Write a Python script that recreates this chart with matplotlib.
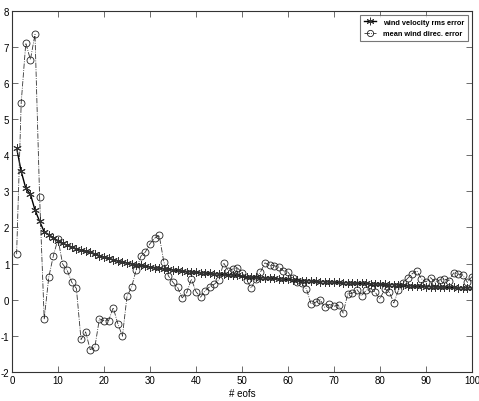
import matplotlib
matplotlib.use("Agg")
import matplotlib.pyplot as plt
import numpy as np

n_eofs = list(range(1, 101))

rms_error = [4.20, 3.55, 3.08, 2.92, 2.48, 2.17, 1.88, 1.80, 1.72, 1.62,
             1.56, 1.50, 1.46, 1.41, 1.37, 1.34, 1.31, 1.27, 1.22, 1.17,
             1.14, 1.11, 1.08, 1.05, 1.02, 1.00, 0.97, 0.95, 0.93, 0.91,
             0.89, 0.87, 0.86, 0.84, 0.83, 0.81, 0.80, 0.78, 0.77, 0.76,
             0.75, 0.74, 0.73, 0.72, 0.71, 0.70, 0.69, 0.68, 0.67, 0.65,
             0.64, 0.63, 0.62, 0.61, 0.60, 0.60, 0.59, 0.58, 0.57, 0.56,
             0.55, 0.54, 0.53, 0.53, 0.52, 0.51, 0.50, 0.50, 0.49, 0.49,
             0.48, 0.47, 0.47, 0.46, 0.46, 0.45, 0.45, 0.44, 0.44, 0.43,
             0.43, 0.42, 0.42, 0.41, 0.40, 0.39, 0.38, 0.37, 0.37, 0.36,
             0.36, 0.35, 0.35, 0.35, 0.34, 0.34, 0.33, 0.33, 0.33, 0.33]

dir_error = [1.26, 5.45, 7.10, 6.64, 7.34, 2.85, -0.53, 0.63, 1.22, 1.68,
             0.99, 0.81, 0.48, 0.31, -1.10, -0.89, -1.38, -1.32, -0.53, -0.58,
             -0.58, -0.22, -0.66, -1.01, 0.09, 0.35, 0.83, 1.20, 1.32, 1.55,
             1.70, 1.78, 1.05, 0.66, 0.48, 0.34, 0.05, 0.20, 0.57, 0.22,
             0.07, 0.25, 0.36, 0.43, 0.55, 1.02, 0.80, 0.85, 0.88, 0.75,
             0.55, 0.32, 0.57, 0.76, 1.02, 0.95, 0.94, 0.90, 0.80, 0.76,
             0.60, 0.50, 0.45, 0.30, -0.12, -0.07, 0.00, -0.21, -0.13, -0.18,
             -0.15, -0.37, 0.17, 0.18, 0.28, 0.11, 0.26, 0.31, 0.20, 0.02,
             0.30, 0.22, -0.09, 0.26, 0.45, 0.59, 0.72, 0.80, 0.58, 0.49,
             0.61, 0.48, 0.55, 0.57, 0.53, 0.74, 0.71, 0.68, 0.48, 0.64]

x_ticks = list(range(0, 101, 10))
y_ticks = list(range(-2, 9))

plt.rcParams['font.family'] = ['Liberation Sans', 'DejaVu Sans']
plt.rcParams['axes.unicode_minus'] = False

fig = plt.figure(figsize=(4.79, 4.02), dpi=100)
ax = fig.add_axes([12/479, 1 - 373/402, 460/479, (373 - 11.5)/402])

ax.plot(n_eofs, rms_error, '-', color='black', lw=1.0, marker=(6, 2, 0),
        markersize=6, markerfacecolor='none', markeredgecolor='#333333',
        markeredgewidth=0.7, label='wind velocity rms error')
ax.plot(n_eofs, dir_error, '-.', color='#333333', lw=0.6, marker='o',
        markersize=5, markerfacecolor='none', markeredgecolor='#222222',
        markeredgewidth=0.6, label='mean wind direc. error')

ax.set_xlim(0, 100)
ax.set_ylim(-2, 8)
ax.set_xticks(x_ticks)
ax.set_yticks(y_ticks)
ax.tick_params(direction='in', top=True, right=True, length=4, width=0.6,
               labelsize=7, pad=2, color='#555555')
for s in ax.spines.values():
    s.set_linewidth(0.8)
    s.set_color('#333333')
ax.set_xlabel('# eofs', fontsize=7, labelpad=2)

leg = ax.legend(loc='upper right', prop={'weight': 'bold', 'size': 5.3},
                frameon=True, fancybox=False, edgecolor='#555555',
                handlelength=1.7, borderaxespad=0.6, labelspacing=0.6,
                handletextpad=0.9, borderpad=0.5, markerscale=0.9)
leg.get_frame().set_linewidth(0.8)

fig.savefig('out.png', dpi=100)
